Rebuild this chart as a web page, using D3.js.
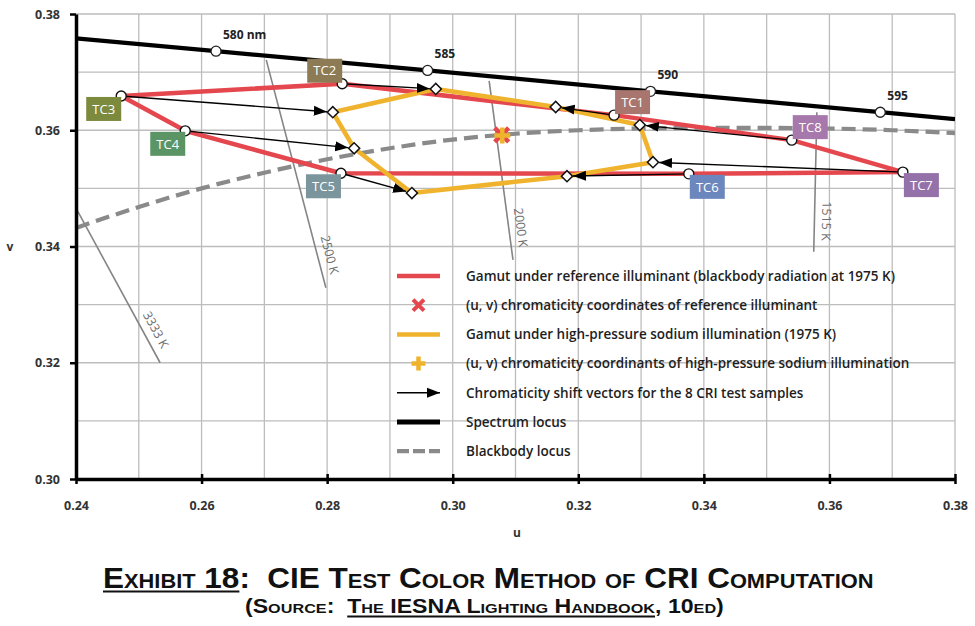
<!DOCTYPE html>
<html><head><meta charset="utf-8">
<script src="https://cdn.jsdelivr.net/npm/d3@7"></script>
<style>
body{margin:0;background:#fff;}
svg{display:block;}
</style></head><body>
<svg id="chart" width="975" height="626"></svg>
<script>
// ---------------- DATA ----------------
const uTicks = [0.24, 0.26, 0.28, 0.30, 0.32, 0.34, 0.36, 0.38];
const vTicks = [0.30, 0.32, 0.34, 0.36, 0.38];
const gridU = [0.24,0.25,0.26,0.27,0.28,0.29,0.30,0.31,0.32,0.33,0.34,0.35,0.36,0.37,0.38];
const gridV = [0.30,0.31,0.32,0.33,0.34,0.35,0.36,0.37,0.38];

const tcNames = ["TC1","TC2","TC3","TC4","TC5","TC6","TC7","TC8"];
const refU = [0.3257, 0.2824, 0.2472, 0.2574, 0.2822, 0.3376, 0.3717, 0.3540];
const refV = [0.3626, 0.3680, 0.3659, 0.3599, 0.3526, 0.3525, 0.3528, 0.3583];
const hpsU = [0.3164, 0.2973, 0.2809, 0.2843, 0.2935, 0.3182, 0.3319, 0.3298];
const hpsV = [0.3640, 0.3671, 0.3631, 0.3569, 0.3492, 0.3521, 0.3545, 0.3609];

const refIlluminant = [0.3078, 0.3592];
const hpsIlluminant = [0.3079, 0.3591];

const spectrumU = [0.2400, 0.2623, 0.2960, 0.3315, 0.3681, 0.3800];
const spectrumV = [0.3758, 0.3736, 0.3703, 0.3667, 0.3631, 0.3619];
const wavelengthLabels = ["580 nm", "585", "590", "595"];
const wavelengthU = [0.2623, 0.2960, 0.3315, 0.3681];
const wavelengthV = [0.3736, 0.3703, 0.3667, 0.3631];

const blackbodyU = [0.24,0.25,0.26,0.27,0.28,0.29,0.30,0.31,0.32,0.33,0.34,0.35,0.36,0.37,0.38];
const blackbodyV = [0.3432,0.3468,0.3500,0.3527,0.3550,0.3569,0.3584,0.3594,0.3600,0.3603,0.3604,0.3604,0.3603,0.3600,0.3595];

const isothermLabels = ["3333 K", "2500 K", "2000 K", "1515 K"];
const isothermStartU = [0.2400, 0.2703, 0.3058, 0.3580];
const isothermStartV = [0.3466, 0.3721, 0.3685, 0.3631];
const isothermEndU = [0.2534, 0.2798, 0.3096, 0.3575];
const isothermEndV = [0.3200, 0.3329, 0.3377, 0.3391];

const legendLabels = [
  "Gamut under reference illuminant (blackbody radiation at 1975 K)",
  "(u, v) chromaticity coordinates of reference illuminant",
  "Gamut under high-pressure sodium illumination (1975 K)",
  "(u, v) chromaticity coordinants of high-pressure sodium illumination",
  "Chromaticity shift vectors for the 8 CRI test samples",
  "Spectrum locus",
  "Blackbody locus"
];
const legendKinds = ["redLine","redX","yellowLine","yellowPlus","arrow","blackLine","greyDash"];

// ---------------- STYLE ----------------
const RED = "#e4474d", YELLOW = "#f0b32e", GRID = "#bdbdbd", ISO = "#858585";
const tcColors = {TC1:"#a8766f",TC2:"#8d7b56",TC3:"#7c8a3e",TC4:"#5b9465",TC5:"#7b959d",TC6:"#6b87bd",TC7:"#9571aa",TC8:"#a678ab"};
const tcPlace = {TC1:[1,-1],TC2:[-1,-1],TC3:[-1,1],TC4:[-1,1],TC5:[-1,1],TC6:[1,1],TC7:[1,1],TC8:[1,-1]};
const uiFont = "'Open Sans', 'Noto Sans', sans-serif";

// ---------------- CHART ----------------
const svg = d3.select("#chart");
const x = d3.scaleLinear().domain([0.24, 0.38]).range([76, 955]);
const y = d3.scaleLinear().domain([0.30, 0.38]).range([479, 14]);
const zip = (a, b) => a.map((d, i) => [d, b[i]]);
const line = d3.line().x(d => x(d[0])).y(d => y(d[1]));

svg.append("defs").append("clipPath").attr("id","plotclip")
  .append("rect").attr("x", x(0.24)).attr("y", y(0.38)).attr("width", x(0.38)-x(0.24)).attr("height", y(0.30)-y(0.38));

// grid
const grid = svg.append("g");
grid.selectAll("line.gu").data(gridU).join("line").attr("class","gu")
  .attr("x1", d => x(d)).attr("x2", d => x(d)).attr("y1", y(0.30)).attr("y2", y(0.38))
  .attr("stroke", GRID).attr("stroke-width", 1.3);
grid.selectAll("line.gv").data(gridV).join("line").attr("class","gv")
  .attr("y1", d => y(d)).attr("y2", d => y(d)).attr("x1", x(0.24)).attr("x2", x(0.38))
  .attr("stroke", GRID).attr("stroke-width", 1.3);

const plot = svg.append("g").attr("clip-path","url(#plotclip)");

// isotherms
const isoData = isothermLabels.map((l, i) => ({label: l, a: [isothermStartU[i], isothermStartV[i]], b: [isothermEndU[i], isothermEndV[i]]}));
plot.selectAll("line.iso").data(isoData).join("line").attr("class","iso")
  .attr("x1", d => x(d.a[0])).attr("y1", d => y(d.a[1]))
  .attr("x2", d => x(d.b[0])).attr("y2", d => y(d.b[1]))
  .attr("stroke", ISO).attr("stroke-width", 1.6);

// blackbody locus
plot.append("path").datum(zip(blackbodyU, blackbodyV))
  .attr("d", line.curve(d3.curveMonotoneX))
  .attr("fill","none").attr("stroke","#8a8a8a").attr("stroke-width",4.2)
  .attr("stroke-dasharray","14,7");
line.curve(d3.curveLinear);

// spectrum locus
plot.append("path").datum(zip(spectrumU, spectrumV)).attr("d", line)
  .attr("fill","none").attr("stroke","#000").attr("stroke-width",4.3);

// isotherm labels
svg.selectAll("text.iso").data(isoData).join("text").attr("class","iso")
  .each(function(d){
    const x1 = x(d.a[0]), y1 = y(d.a[1]), x2 = x(d.b[0]), y2 = y(d.b[1]);
    const len = Math.hypot(x2-x1, y2-y1), ux = (x2-x1)/len, uy = (y2-y1)/len;
    const ang = Math.atan2(uy, ux) * 180 / Math.PI;
    const cx = x2 - ux*31 + uy*12, cy = y2 - uy*31 - ux*12;
    d3.select(this).attr("transform", `translate(${cx},${cy}) rotate(${ang})`);
  })
  .attr("text-anchor","middle").attr("dy","0.35em")
  .attr("font-family", uiFont).attr("font-size", 12.5).attr("fill", "#6e6e6e")
  .text(d => d.label);

// gamut polygons
const refPts = zip(refU, refV), hpsPts = zip(hpsU, hpsV);
const closed = d3.line().x(d => x(d[0])).y(d => y(d[1])).curve(d3.curveLinearClosed);
svg.append("path").datum(refPts).attr("d", closed).attr("fill","none")
  .attr("stroke", RED).attr("stroke-width", 4.5).attr("stroke-linejoin","round");
svg.append("path").datum(hpsPts).attr("d", closed).attr("fill","none")
  .attr("stroke", YELLOW).attr("stroke-width", 4.5).attr("stroke-linejoin","round");

// arrow marker
const defs = svg.select("defs");
defs.append("marker").attr("id","arrowhead").attr("markerUnits","userSpaceOnUse")
  .attr("viewBox","0 -6 14 12").attr("refX",13).attr("refY",0)
  .attr("markerWidth",14).attr("markerHeight",12).attr("orient","auto")
  .append("path").attr("d","M0,-5L13,0L0,5Z").attr("fill","#000");

// shift vectors
svg.selectAll("line.vec").data(tcNames).join("line").attr("class","vec")
  .each(function(n, i){
    const x1 = x(refU[i]), y1 = y(refV[i]), x2 = x(hpsU[i]), y2 = y(hpsV[i]);
    const len = Math.hypot(x2-x1, y2-y1);
    const k = (len - 6) / len;
    d3.select(this).attr("x1", x1).attr("y1", y1).attr("x2", x1 + (x2-x1)*k).attr("y2", y1 + (y2-y1)*k);
  })
  .attr("stroke","#000").attr("stroke-width",1.4).attr("marker-end","url(#arrowhead)");

// spectrum wavelength markers
svg.selectAll("circle.wl").data(wavelengthLabels).join("circle").attr("class","wl")
  .attr("cx", (d, i) => x(wavelengthU[i])).attr("cy", (d, i) => y(wavelengthV[i])).attr("r", 5)
  .attr("fill","#fff").attr("stroke","#222").attr("stroke-width",1.3);
svg.selectAll("text.wl").data(wavelengthLabels).join("text").attr("class","wl")
  .attr("x", (d, i) => x(wavelengthU[i]) + 7).attr("y", (d, i) => y(wavelengthV[i]) - 12)
  .attr("font-family", uiFont).attr("font-weight", 700).attr("font-size", 12).attr("fill","#222")
  .text(d => d);

// reference points (circles)
svg.selectAll("circle.ref").data(tcNames).join("circle").attr("class","ref")
  .attr("cx", (d, i) => x(refU[i])).attr("cy", (d, i) => y(refV[i])).attr("r", 5)
  .attr("fill","#fff").attr("stroke","#111").attr("stroke-width",1.4);

// hps points (diamonds)
const diamond = d3.symbol().type(d3.symbolSquare).size(62)();
svg.selectAll("path.hps").data(tcNames).join("path").attr("class","hps")
  .attr("d", diamond)
  .attr("transform", (d, i) => `translate(${x(hpsU[i])},${y(hpsV[i])}) rotate(45)`)
  .attr("fill","#fff").attr("stroke","#111").attr("stroke-width",1.5);

// illuminant markers
function drawX(g, cx, cy, s, w){
  g.append("path").attr("d", `M${cx-s},${cy-s}L${cx+s},${cy+s}M${cx-s},${cy+s}L${cx+s},${cy-s}`)
    .attr("stroke", RED).attr("stroke-width", w).attr("fill","none");
}
function drawPlus(g, cx, cy, s, w){
  g.append("path").attr("d", `M${cx-s},${cy}L${cx+s},${cy}M${cx},${cy-s}L${cx},${cy+s}`)
    .attr("stroke", YELLOW).attr("stroke-width", w).attr("fill","none");
}
drawX(svg, x(refIlluminant[0]), y(refIlluminant[1]), 7, 4.5);
drawPlus(svg, x(hpsIlluminant[0]), y(hpsIlluminant[1]), 8, 4.5);

// TC labels
const tcG = svg.selectAll("g.tc").data(tcNames).join("g").attr("class","tc")
  .attr("transform", (n, i) => {
    const p = tcPlace[n], px = x(refU[i]), py = y(refV[i]);
    const bx = p[0] > 0 ? px + 1 : px - 35;
    const by = p[1] > 0 ? py + 1 : py - 25;
    return `translate(${bx},${by})`;
  });
tcG.append("rect").attr("width", 35).attr("height", 24).attr("fill", n => tcColors[n]);
tcG.append("text").attr("x", 17.5).attr("y", 12).attr("dy","0.36em").attr("text-anchor","middle")
  .attr("font-family", uiFont).attr("font-size", 13).attr("fill","#fff").text(n => n);

// axes
const yAxis = d3.axisLeft(y).tickValues(vTicks).tickFormat(d3.format(".2f")).tickSize(6).tickSizeOuter(0).tickPadding(10);
const gy = svg.append("g").attr("transform", `translate(${x(0.24)},0)`).call(yAxis);
const xAxis = d3.axisBottom(x).tickValues(uTicks).tickFormat(d3.format(".2f")).tickSize(5).tickSizeOuter(0).tickPadding(17);
const gx = svg.append("g").attr("transform", `translate(0,${y(0.30)})`).call(xAxis);
gx.selectAll(".tick line").attr("y1", -5);
[gx, gy].forEach(g => {
  g.select(".domain").attr("stroke","#000").attr("stroke-width",3.5);
  g.selectAll(".tick line").attr("stroke","#000").attr("stroke-width",2.5);
  g.selectAll(".tick text").attr("font-family", uiFont).attr("font-weight",700).attr("font-size",12.5).attr("fill","#333");
});
svg.append("text").attr("x", 10).attr("y", 247).attr("dy","0.35em").attr("text-anchor","middle")
  .attr("font-family", uiFont).attr("font-weight",700).attr("font-size",12).attr("fill","#333").text("v");
svg.append("text").attr("x", 517).attr("y", 533).attr("dy","0.35em").attr("text-anchor","middle")
  .attr("font-family", uiFont).attr("font-weight",700).attr("font-size",12).attr("fill","#333").text("u");

// legend
const lg = svg.append("g");
legendKinds.forEach((k, i) => {
  const cy = 276 + i * 29.2, x0 = 397, x1 = 440, xc = (x0 + x1) / 2;
  if (k === "redLine") lg.append("line").attr("x1",x0).attr("x2",x1).attr("y1",cy).attr("y2",cy).attr("stroke",RED).attr("stroke-width",4.5);
  if (k === "yellowLine") lg.append("line").attr("x1",x0).attr("x2",x1).attr("y1",cy).attr("y2",cy).attr("stroke",YELLOW).attr("stroke-width",4.5);
  if (k === "redX") drawX(lg, xc, cy, 5.5, 4);
  if (k === "yellowPlus") drawPlus(lg, xc, cy, 7, 4.5);
  if (k === "arrow") lg.append("line").attr("x1",x0).attr("x2",x1).attr("y1",cy).attr("y2",cy).attr("stroke","#000").attr("stroke-width",1.6).attr("marker-end","url(#arrowhead)");
  if (k === "blackLine") lg.append("line").attr("x1",x0).attr("x2",x1).attr("y1",cy).attr("y2",cy).attr("stroke","#000").attr("stroke-width",5);
  if (k === "greyDash") lg.append("line").attr("x1",x0).attr("x2",x1).attr("y1",cy).attr("y2",cy).attr("stroke","#8a8a8a").attr("stroke-width",4.2).attr("stroke-dasharray","12,4");
  lg.append("text").attr("x", 466).attr("y", cy).attr("dy","0.35em")
    .attr("font-family", uiFont).attr("font-weight",600).attr("font-size",13.5).attr("fill","#1e1e1e")
    .text(legendLabels[i]);
});

// title block
function titleLine(parts, cx, baseline, size, targetW, ulW){
  const g = svg.append("g");
  const t = g.append("text").attr("x", 0).attr("y", baseline)
    .attr("font-family","'Liberation Sans', Arial, sans-serif").attr("font-weight",700)
    .attr("font-size", size).attr("font-variant","small-caps").attr("fill","#111")
    .style("white-space","pre");
  parts.forEach(p => t.append("tspan").text(p.t));
  const node = t.node();
  const w = node.getComputedTextLength();
  const s = targetW / w;
  g.attr("transform", `translate(${cx - targetW/2},0) scale(${s},1)`);
  let idx = 0;
  parts.forEach(p => {
    if (p.u) {
      const a = node.getStartPositionOfChar(idx).x;
      const b = node.getEndPositionOfChar(idx + p.t.length - 1).x;
      g.append("line").attr("x1", a).attr("x2", b).attr("y1", baseline + 3.5).attr("y2", baseline + 3.5)
        .attr("stroke","#111").attr("stroke-width", ulW);
    }
    idx += p.t.length;
  });
}
titleLine([{t:"Exhibit 18", u:true}, {t:":  CIE Test Color Method of CRI Computation"}], 487, 588, 29, 768, 2.2);
titleLine([{t:"(Source:  "}, {t:"The IESNA Lighting Handbook", u:true}, {t:", 10ed)"}], 487.5, 613, 19.5, 485, 2);
</script>
</body></html>
